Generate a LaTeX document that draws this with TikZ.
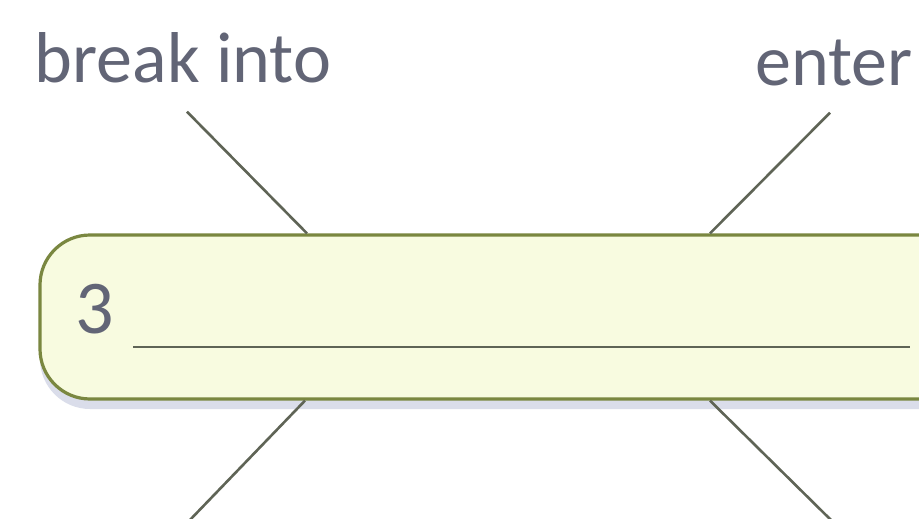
\documentclass[tikz,border=0pt]{standalone}
\usepackage{fontspec}
\setmainfont{Carlito}
\usetikzlibrary{positioning, shadows}
\definecolor{labelgrey}{HTML}{626576}
\definecolor{spokegrey}{HTML}{5F6456}
\definecolor{boxgreen}{HTML}{7A8740}
\definecolor{boxfill}{HTML}{F8FBE0}
\definecolor{shadowblue}{HTML}{DADDEA}

\begin{document}
\begin{tikzpicture}[
        x=1pt, y=-1pt,
        wordlabel/.style={font=\fontsize{72}{80}\selectfont, text=labelgrey, inner sep=0pt, anchor=base},
        numlabel/.style={font=\fontsize{76}{84}\selectfont, text=labelgrey, inner sep=0pt, anchor=base west},
        answerbox/.style={draw=boxgreen, line width=3.2pt, fill=boxfill, rounded corners=50pt, minimum width=960pt, minimum height=164pt, inner sep=0pt,
            drop shadow={shadow xshift=0pt, shadow yshift=-10pt, fill=shadowblue, opacity=1}},
        spoke/.style={draw=spokegrey, line width=2.6pt},
        writeline/.style={draw=spokegrey, line width=2pt}
    ]
        \path[use as bounding box, clip] (0,0) rectangle (919,519);
        \fill[white] (0,0) rectangle (919,519);

        \node[wordlabel] (breakinto) at (183,83) {break into};
        \node[wordlabel] (enter) at (834,85) {enter};
        \node[answerbox] (box3) at (520,317) {};
        \node[numlabel] (num3) at (75,333) {3};
        \coordinate (linestart) at (133,347);
        \coordinate (lineend) at (910,347);
        \coordinate (bottomleft) at (188,522);
        \coordinate (bottomright) at (833,522);

        \draw[writeline] (linestart) -- (lineend);
        \draw[spoke] ([xshift=4pt, yshift=-28pt]breakinto.south) -- ([xshift=-213pt]box3.north);
        \draw[spoke] ([xshift=-4pt, yshift=-27pt]enter.south) -- ([xshift=190pt]box3.north);
        \draw[spoke] ([xshift=-215pt]box3.south) -- (bottomleft);
        \draw[spoke] ([xshift=190pt]box3.south) -- (bottomright);
    \end{tikzpicture}
\end{document}
